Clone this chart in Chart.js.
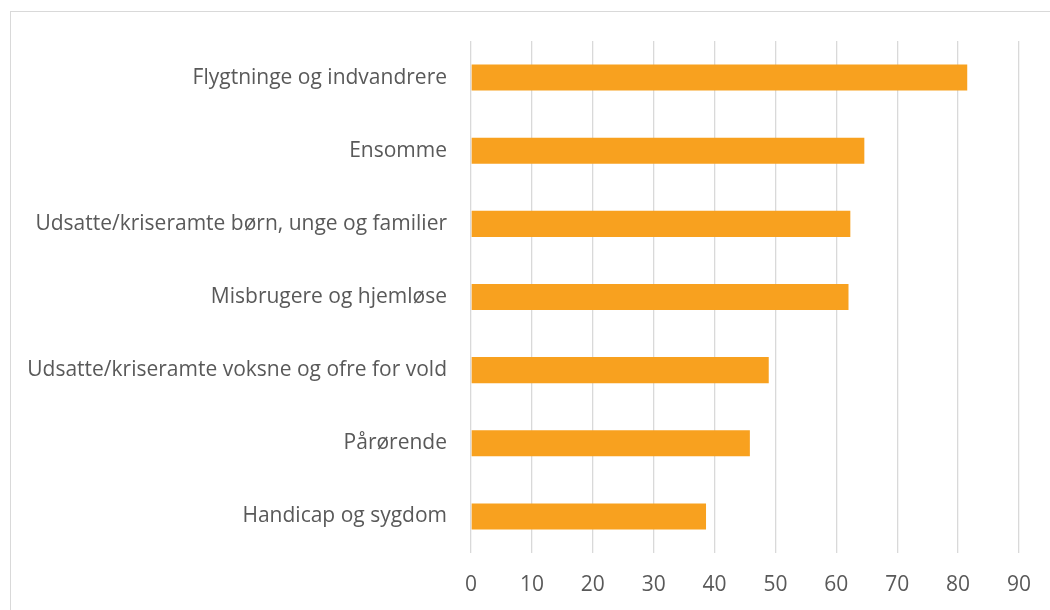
<!DOCTYPE html>
<html>
<head>
<meta charset="utf-8">
<script src="https://cdn.jsdelivr.net/npm/chart.js@4"></script>
<style>
  body { margin: 0; background: #fff; }
  .frame { position: absolute; left: 10px; top: 11px; width: 1100px; height: 700px; border: 1px solid #d9d9d9; }
  .wrap { position: absolute; left: 0; top: 0; width: 1050px; height: 610px; }
</style>
</head>
<body>
<div class="frame"></div>
<div class="wrap"><canvas id="chart"></canvas></div>
<script>
const categories = [
  'Flygtninge og indvandrere',
  'Ensomme',
  'Udsatte/kriseramte børn, unge og familier',
  'Misbrugere og hjemløse',
  'Udsatte/kriseramte voksne og ofre for vold',
  'Pårørende',
  'Handicap og sygdom'
];
const values = [81.5, 64.6, 62.3, 62.0, 48.9, 45.8, 38.6];
const x_min = 0;
const x_max = 90;
const x_step = 10;

const text_color = '#595959';
const grid_color = '#d9d9d9';

const ctx = document.getElementById('chart').getContext('2d');
new Chart(ctx, {
  type: 'bar',
  data: {
    labels: categories,
    datasets: [{
      data: values,
      backgroundColor: '#F8A11F',
      borderColor: '#F8A11F',
      borderWidth: 0,
      barPercentage: 0.356,
      categoryPercentage: 1
    }]
  },
  options: {
    indexAxis: 'y',
    responsive: true,
    maintainAspectRatio: false,
    animation: false,
    layout: {
      padding: { top: 41, right: 29, bottom: 0, left: 0 }
    },
    plugins: {
      legend: { display: false },
      tooltip: { enabled: false }
    },
    scales: {
      x: {
        min: x_min,
        max: x_max,
        ticks: {
          stepSize: x_step,
          color: text_color,
          padding: 19,
          font: { family: 'Open Sans', size: 21 }
        },
        grid: {
          color: grid_color,
          lineWidth: 1.3,
          drawTicks: false
        },
        border: { display: false },
        afterFit: function (scale) {
          scale.height = 57;
        }
      },
      y: {
        ticks: {
          color: text_color,
          padding: 24,
          font: { family: 'Open Sans', size: 21 }
        },
        grid: { display: false, drawTicks: false },
        border: { display: false },
        afterFit: function (scale) {
          scale.width = 471;
        }
      }
    }
  }
});
</script>
</body>
</html>
